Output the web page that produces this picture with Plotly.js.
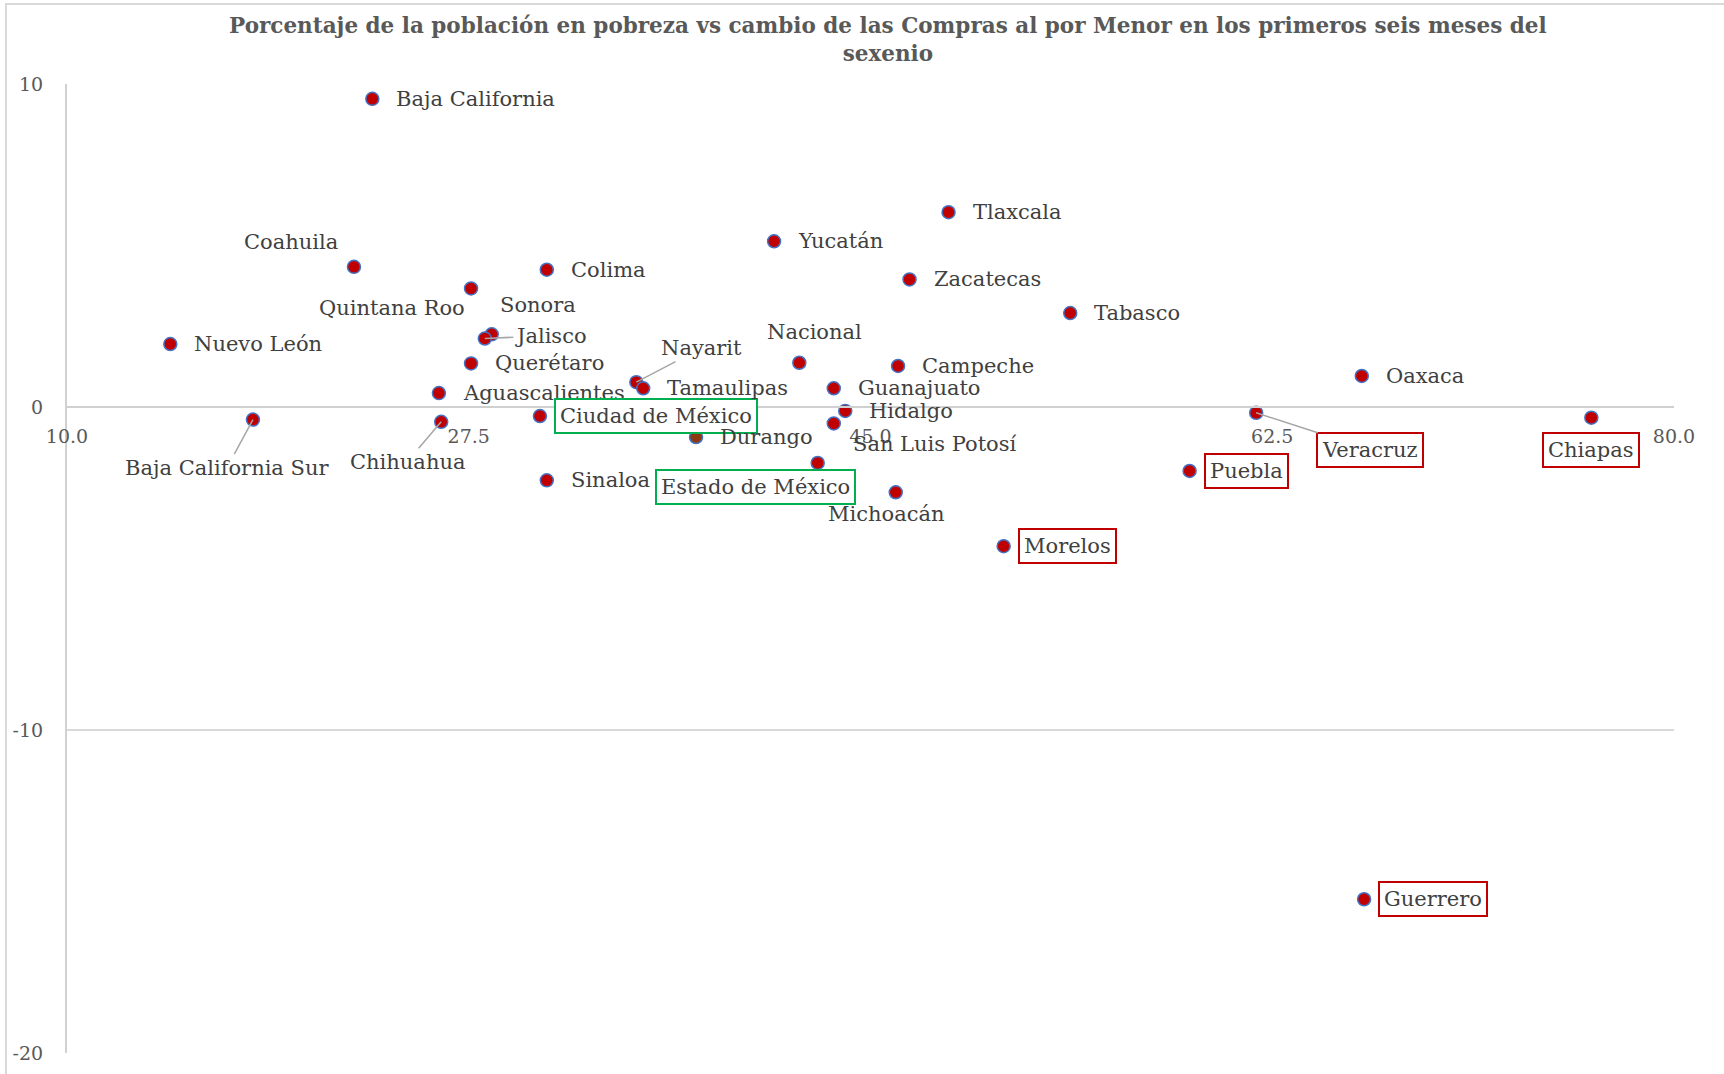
<!DOCTYPE html>
<html>
<head>
<meta charset="utf-8">
<script src="https://cdn.plot.ly/plotly-3.0.1.min.js"></script>
<style>
  html, body { margin: 0; padding: 0; background: #ffffff; }
  #wrap { position: absolute; left: 0; top: 0; width: 1724px; height: 1074px; overflow: hidden; }
  #chart { position: absolute; left: 0; top: 0; width: 1724px; height: 1074px; }
  #frame { position: absolute; left: 5px; top: 3px; width: 2000px; height: 2000px;
           border-left: 2px solid #D9D9D9; border-top: 2px solid #D9D9D9; pointer-events: none; }
</style>
</head>
<body>
<div id="wrap">
  <div id="chart"></div>
  <div id="frame"></div>
</div>
<script>
// ---- Data ----
const states = [
  'Baja California', 'Coahuila', 'Quintana Roo', 'Colima', 'Sonora', 'Jalisco',
  'Nuevo León', 'Querétaro', 'Aguascalientes', 'Baja California Sur', 'Chihuahua',
  'Ciudad de México', 'Sinaloa', 'Nayarit', 'Tamaulipas', 'Durango', 'Yucatán',
  'Nacional', 'Guanajuato', 'Hidalgo', 'San Luis Potosí', 'Estado de México',
  'Michoacán', 'Campeche', 'Zacatecas', 'Tlaxcala', 'Morelos', 'Tabasco',
  'Puebla', 'Veracruz', 'Oaxaca', 'Guerrero', 'Chiapas'
];
// % of population in poverty (x)
const poverty = [
  23.3, 22.5, 27.6, 30.9, 28.5, 28.2,
  14.5, 27.6, 26.2, 18.1, 26.3,
  30.6, 30.9, 34.8, 35.1, 37.4, 40.8,
  41.9, 43.4, 43.9, 43.4, 42.7,
  46.1, 46.2, 46.7, 48.4, 50.8, 53.7,
  58.9, 61.8, 66.4, 66.5, 76.4
];
// change in retail purchases, first six months (y)
const retailChange = [
  9.54, 4.34, 3.67, 4.25, 2.25, 2.12,
  1.95, 1.35, 0.43, -0.39, -0.46,
  -0.28, -2.27, 0.77, 0.58, -0.93, 5.13,
  1.37, 0.58, -0.12, -0.51, -1.73,
  -2.64, 1.27, 3.95, 6.03, -4.31, 2.91,
  -1.98, -0.18, 0.96, -15.24, -0.33
];
const xTickVals = [10, 27.5, 45, 62.5, 80];
const xTickText = ['10.0', '27.5', '45.0', '62.5', '80.0'];
const yTickVals = [10, 0, -10, -20];
const yTickText = ['10', '0', '-10', '-20'];

const redBoxed = ['Morelos', 'Puebla', 'Veracruz', 'Chiapas', 'Guerrero'];
const greenBoxed = ['Ciudad de México', 'Estado de México'];

// ---- Label placement (style only, pixel offsets; dy positive = down) ----
const labelPlacement = {
  'Coahuila':            {mode: 'center', dx: -63, dy: -25},
  'Quintana Roo':        {mode: 'center', dx: -79, dy: 20},
  'Sonora':              {mode: 'center', dx: 46, dy: -29},
  'Jalisco':             {mode: 'arrow',  dx: 66, dy: -3},
  'Nayarit':             {mode: 'arrow',  dx: 65, dy: -34},
  'Estado de México':    {mode: 'center', dx: -62, dy: 24},
  'Nacional':            {mode: 'center', dx: 15, dy: -31},
  'San Luis Potosí':     {mode: 'left',   dx: 17, dy: 21},
  'Michoacán':           {mode: 'center', dx: -10, dy: 22},
  'Veracruz':            {mode: 'arrow',  dx: 114, dy: 37},
  'Chiapas':             {mode: 'center', dx: 0, dy: 32},
  'Baja California Sur': {mode: 'arrow',  dx: -26, dy: 48},
  'Chihuahua':           {mode: 'arrow',  dx: -34, dy: 40}
};

const FONT = 'DejaVu Serif, Liberation Serif, serif';
const labelFont = {family: FONT, size: 21, color: '#404040'};

const markerColors = states.map(s => s === 'Durango' ? '#8B3A12' : '#C00000');

const trace = {
  type: 'scatter',
  mode: 'markers',
  x: poverty,
  y: retailChange,
  text: states,
  hoverinfo: 'text+x+y',
  cliponaxis: false,
  marker: {size: 13, color: markerColors, line: {color: '#4472C4', width: 1.5}}
};

const annotations = [];
states.forEach((s, i) => {
  const p = labelPlacement[s] || {mode: 'right', dx: 0, dy: 0};
  const boxColor = redBoxed.includes(s) ? '#C00000' : (greenBoxed.includes(s) ? '#00B050' : null);
  const base = {
    x: poverty[i], y: retailChange[i], xref: 'x', yref: 'y',
    text: s, font: labelFont
  };
  if (boxColor) {
    Object.assign(base, {bordercolor: boxColor, borderwidth: 2, borderpad: 4, bgcolor: '#ffffff'});
  }
  let a;
  if (p.mode === 'arrow') {
    a = Object.assign({}, base, {
      showarrow: true, arrowhead: 0, arrowwidth: 1.5, arrowcolor: '#A6A6A6',
      ax: p.dx, ay: p.dy, axref: 'pixel', ayref: 'pixel', standoff: 0, startstandoff: 0
    });
  } else if (p.mode === 'right') {
    a = Object.assign({}, base, {
      showarrow: false, xanchor: 'left', yanchor: 'middle',
      xshift: boxColor ? 14 : 22, yshift: 0
    });
  } else {
    a = Object.assign({}, base, {
      showarrow: false, xanchor: p.mode, yanchor: 'middle',
      xshift: p.dx, yshift: -p.dy
    });
  }
  annotations.push(a);
});

const layout = {
  width: 1724, height: 1074,
  margin: {l: 67, r: 50, t: 84, b: 21, pad: 0},
  paper_bgcolor: 'rgba(0,0,0,0)',
  plot_bgcolor: '#ffffff',
  showlegend: false,
  title: {
    text: '<b>Porcentaje de la población en pobreza vs cambio de las Compras al por Menor en los primeros seis meses del<br>sexenio</b>',
    x: 0.515, xref: 'container', xanchor: 'center',
    y: 0.969, yref: 'container', yanchor: 'top',
    font: {family: FONT, size: 21.5, color: '#595959'}
  },
  xaxis: {
    range: [10, 80], autorange: false,
    tickvals: xTickVals, ticktext: xTickText,
    showgrid: false, zeroline: false,
    showline: true, linecolor: '#D0D0D0', linewidth: 2,
    anchor: 'free', position: 2 / 3,
    ticks: '', ticklabelstandoff: 12,
    tickfont: {family: FONT, size: 19, color: '#595959'},
    automargin: false
  },
  yaxis: {
    range: [-20, 10], autorange: false,
    tickvals: yTickVals, ticktext: yTickText,
    showgrid: true, gridcolor: '#D9D9D9', gridwidth: 2,
    zeroline: false,
    showline: true, linecolor: '#D0D0D0', linewidth: 2,
    ticks: '', ticklabelstandoff: 18,
    tickfont: {family: FONT, size: 19, color: '#595959'},
    automargin: false
  },
  annotations: annotations
};

Plotly.newPlot('chart', [trace], layout, {displayModeBar: false, staticPlot: true});
</script>
</body>
</html>
